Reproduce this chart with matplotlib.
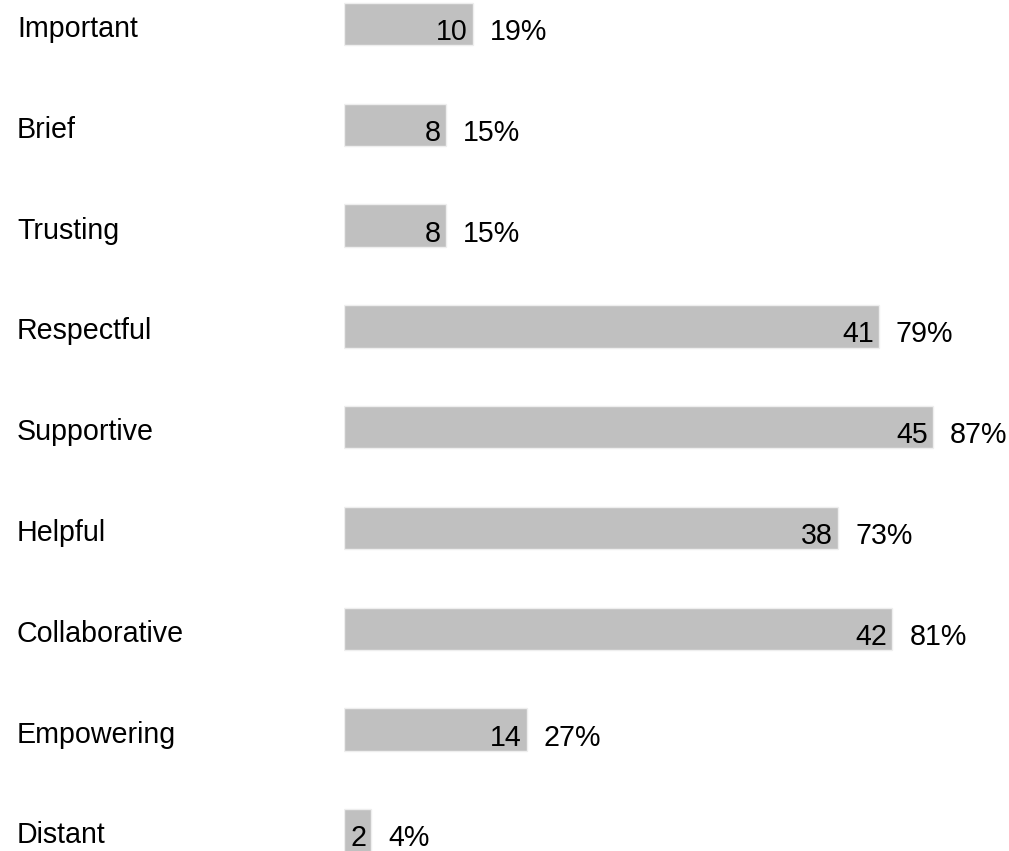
import matplotlib.pyplot as plt
from matplotlib.transforms import blended_transform_factory

plt.rcParams["font.family"] = ["Liberation Sans", "DejaVu Sans"]

categories = ["Important", "Brief", "Trusting", "Respectful", "Supportive",
              "Helpful", "Collaborative", "Empowering", "Distant"]
counts = [10, 8, 8, 41, 45, 38, 42, 14, 2]
percents = [19, 15, 15, 79, 87, 73, 81, 27, 4]

W, H = 1009, 851
fig = plt.figure(figsize=(W / 100, H / 100), dpi=100)
ax = fig.add_axes([344 / W, 0, 1 - 344 / W, 1])

y = list(range(len(categories)))
ax.barh(y, percents, height=0.42, color="#c0c0c0", edgecolor="#eeeeee", linewidth=1)

ax.set_xlim(0, (W - 344) / 6.77)
ax.set_ylim(8.204, -0.238)
ax.axis("off")

fs = 20.6
trans = blended_transform_factory(fig.transFigure, ax.transData)
for i, (cat, c, p) in enumerate(zip(categories, counts, percents)):
    ax.annotate(cat, xy=(17 / W, i), xycoords=trans, xytext=(0, -13),
                textcoords="offset pixels", ha="left", va="baseline", fontsize=fs)
    ax.annotate(str(c), xy=(p, i), xytext=(-5, -16), textcoords="offset pixels",
                ha="right", va="baseline", fontsize=fs)
    ax.annotate("{}%".format(p), xy=(p, i), xytext=(17, -16), textcoords="offset pixels",
                ha="left", va="baseline", fontsize=fs)

fig.savefig("out.png", dpi=100)
